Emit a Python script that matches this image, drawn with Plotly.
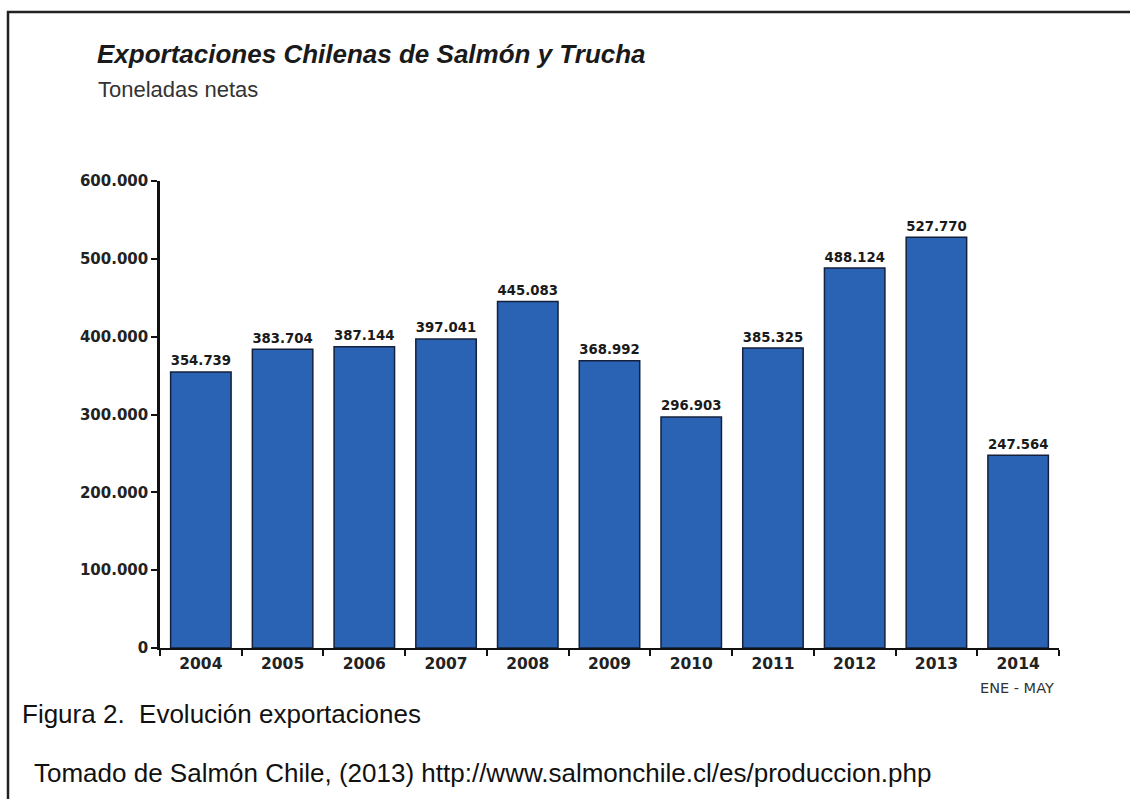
import plotly.graph_objects as go

years = ["2004", "2005", "2006", "2007", "2008", "2009", "2010", "2011", "2012", "2013", "2014"]
values = [354739, 383704, 387144, 397041, 445083, 368992, 296903, 385325, 488124, 527770, 247564]
value_labels = ["354.739", "383.704", "387.144", "397.041", "445.083", "368.992",
                "296.903", "385.325", "488.124", "527.770", "247.564"]
ytick_vals = [0, 100000, 200000, 300000, 400000, 500000, 600000]
ytick_text = ["0", "100.000", "200.000", "300.000", "400.000", "500.000", "600.000"]

W, H = 1130, 799
L, R, T, B = 160, 71, 181, 151

BOLDF = "DejaVu Sans"

fig = go.Figure()
fig.add_trace(go.Bar(
    x=years, y=values,
    text=value_labels, textposition="outside", cliponaxis=False,
    texttemplate="<b>%{text}</b>",
    textfont=dict(family=BOLDF, size=15, color="#1a1a1a"),
    marker=dict(color="#2a63b3", line=dict(color="#14213d", width=1.5)),
))

fig.update_layout(
    width=W, height=H,
    margin=dict(l=L, r=R, t=T, b=B),
    paper_bgcolor="white", plot_bgcolor="white",
    showlegend=False, bargap=0.26,
    font=dict(family="Liberation Sans", color="#222"),
)
fig.update_xaxes(
    type="category", showline=True, linecolor="#111", linewidth=2,
    tickvals=years, ticktext=["<b>%s</b>" % y for y in years],
    ticks="outside", tickson="boundaries", ticklen=6, tickwidth=1.5, tickcolor="#111",
    tickfont=dict(family=BOLDF, size=15.5, color="#222"),
    showgrid=False,
)
fig.update_yaxes(
    range=[0, 600000], tickvals=ytick_vals, ticktext=["<b>%s</b>" % t for t in ytick_text],
    showline=True, linecolor="#111", linewidth=2.5,
    ticks="outside", ticklen=6, tickwidth=1.5, tickcolor="#111",
    tickfont=dict(family=BOLDF, size=15, color="#222"),
    showgrid=False, zeroline=False,
)

def px(x):
    return (x - L) / (W - L - R)

def py(y):
    return (H - B - y) / (H - T - B)

annotations = [
    dict(text="<b><i>Exportaciones Chilenas de Salmón y Trucha</i></b>", x=px(95), y=py(54),
         font=dict(family="Liberation Sans", size=26, color="#1a1a1a")),
    dict(text="Toneladas netas", x=px(96), y=py(89),
         font=dict(family="Liberation Sans", size=22, color="#333")),
    dict(text="ENE - MAY", x=px(978), y=py(688),
         font=dict(family="DejaVu Sans", size=14.5, color="#333")),
    dict(text="Figura 2.\u00a0 Evolución exportaciones", x=px(20), y=py(714),
         font=dict(family="Liberation Sans", size=26, color="#111")),
    dict(text="Tomado de Salmón Chile, (2013) http://www.salmonchile.cl/es/produccion.php", x=px(32), y=py(773),
         font=dict(family="Liberation Sans", size=26, color="#111")),
]
for a in annotations:
    a.update(xref="paper", yref="paper", xanchor="left", yanchor="middle", showarrow=False)
fig.update_layout(annotations=annotations)

fig.update_layout(shapes=[
    dict(type="line", xref="paper", yref="paper", x0=px(7), x1=px(W + 5), y0=py(12), y1=py(12),
         line=dict(color="#222", width=2.5)),
    dict(type="line", xref="paper", yref="paper", x0=px(8), x1=px(8), y0=py(11), y1=py(H + 5),
         line=dict(color="#222", width=2.5)),
])

fig.write_html("out.html", config={"displayModeBar": False},
               post_script="document.body.style.margin='0';document.body.style.overflow='hidden';")
